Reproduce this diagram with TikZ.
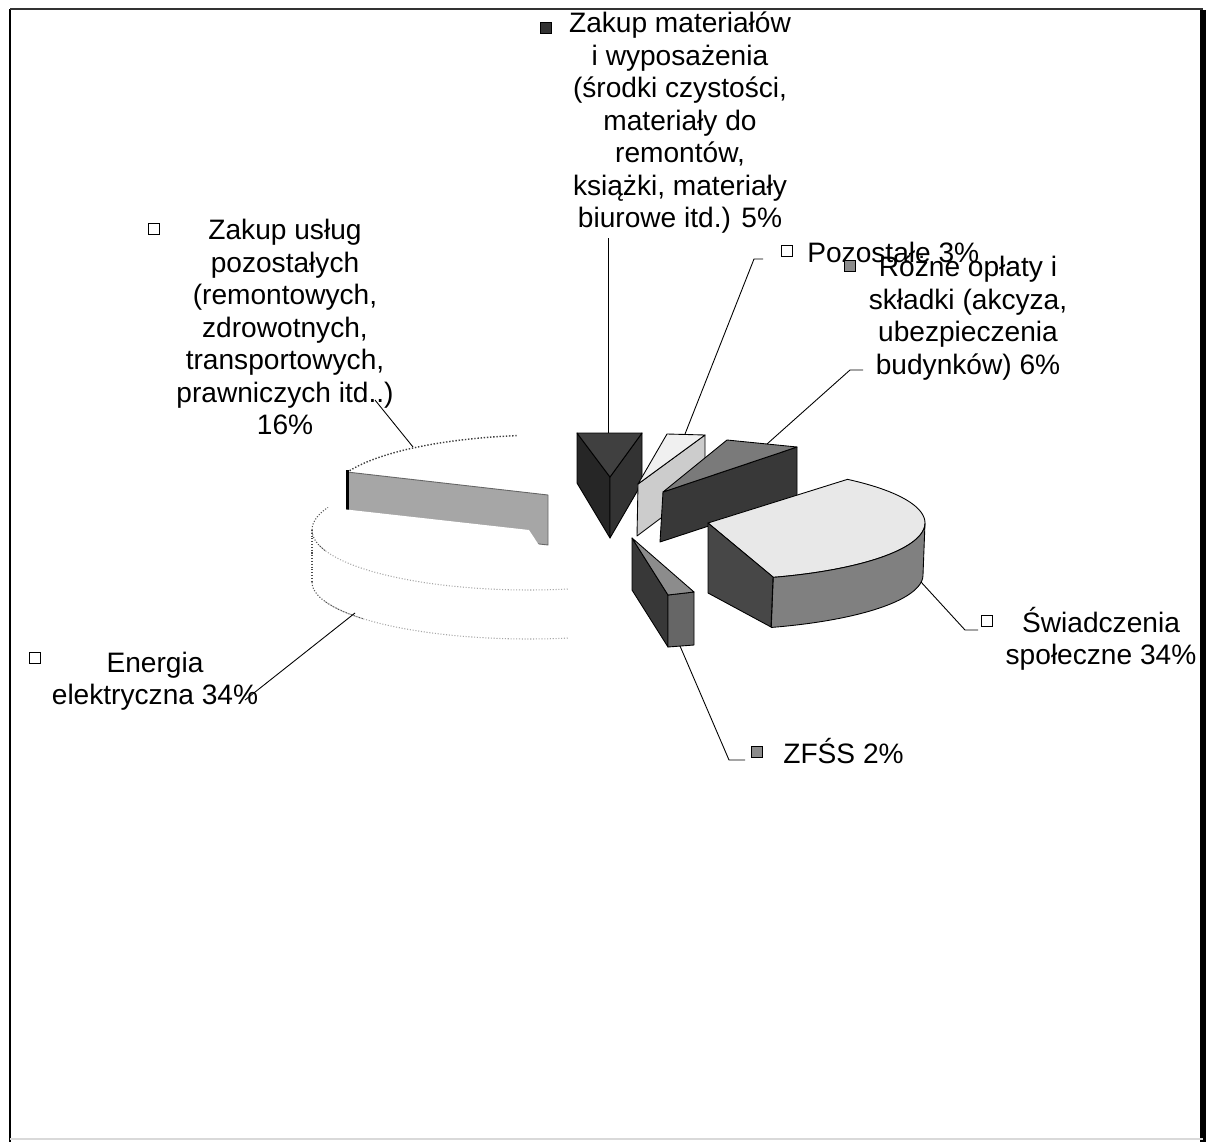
\documentclass[tikz,border=0pt]{standalone}
\usepackage{fontspec}
\setmainfont{Liberation Sans}
\begin{document}
\begin{tikzpicture}[x=0.02cm,y=-0.02cm,
    lbl/.style={font=\fontsize{16}{18.5}\selectfont,align=center,inner sep=0pt},
    legkey/.style={draw=black,line width=0.6pt,minimum size=0.22cm,inner sep=0pt},
    lead/.style={line width=0.5pt},
    face/.style={draw=black,line width=0.5pt,line join=round},
    ghost/.style={draw=black!35,densely dotted,line width=0.6pt}]
    \useasboundingbox (0,0) rectangle (1213,1142);
    % frame
    \draw[line width=0.06cm] (10,9) -- (10,1142);
    \draw[line width=0.03cm,black!80] (10,9) -- (1203,9);
    \draw[line width=0.12cm] (1203,10) -- (1203,1142);
    \draw[line width=0.03cm,black!15] (10,1139) -- (1203,1139);
    % uslugi pozostale (back left)
    \fill[white] (548,495) -- plot[domain=202.1:259.7,samples=40] ({548+217*cos(\x)},{495+60*sin(\x)}) -- cycle;
    \draw[densely dotted,line width=0.8pt,black!75] plot[domain=202.1:262,samples=40] ({548+217*cos(\x)},{495+60*sin(\x)});
    \filldraw[face,fill=black!35,draw=black!60] (548,495) -- (347,472) -- (347,522) -- (548,545) -- cycle;
    \draw[line width=0.06cm] (347,470) -- (347,512);
    % energia elektryczna
    \fill[white] (529,530) -- plot[domain=79.7:202.1,samples=60] ({529+217*cos(\x)},{530+60*sin(\x)}) -- cycle;
    \fill[white] plot[domain=79.7:180,samples=60] ({529+217*cos(\x)},{530+60*sin(\x)})
        -- plot[domain=180:79.7,samples=60] ({529+217*cos(\x)},{582+57*sin(\x)}) -- cycle;
    \draw[ghost] plot[domain=79.7:165,samples=60] ({529+217*cos(\x)},{530+60*sin(\x)});
    \draw[ghost] plot[domain=79.7:160,samples=60] ({529+217*cos(\x)},{582+57*sin(\x)});
    \draw[ghost,draw=black!70] plot[domain=160:202.1,samples=30] ({529+217*cos(\x)},{530+60*sin(\x)});
    \draw[ghost,draw=black!70] plot[domain=140:180,samples=30] ({529+217*cos(\x)},{582+57*sin(\x)});
    \draw[ghost,draw=black!70] (312,530) -- (312,582);
    % zakup materialow
    \filldraw[face,fill=black!85] (577,433) -- (610,477) -- (610,538) -- (577,483) -- cycle;
    \filldraw[face,fill=black!80] (642,433) -- (610,477) -- (610,538) -- (642,483) -- cycle;
    \filldraw[face,fill=black!75] (577,433) -- (642,433) -- (610,477) -- cycle;
    % pozostale
    \filldraw[face,fill=black!20] (638,484) -- (705,435) -- (705,485) -- (637,536) -- cycle;
    \filldraw[face,fill=black!6] (638,484) -- (667,434) -- (705,435) -- cycle;
    % rozne oplaty
    \filldraw[face,fill=black!78] (663,492) -- (797,447) -- (797,497) -- (660,542) -- cycle;
    \filldraw[face,fill=black!52] (663,492) -- (727,440) -- (797,447) -- cycle;
    % swiadczenia spoleczne
    \filldraw[face,fill=black!9] (708,523) -- plot[domain=72.5:-50,samples=60] ({708+217*cos(\x)},{523+57*sin(\x)}) -- cycle;
    \filldraw[face,fill=black!50] plot[domain=0:72.5,samples=40] ({708+217*cos(\x)},{523+57*sin(\x)})
        -- plot[domain=72.5:0,samples=40] ({706+217*cos(\x)},{575+55*sin(\x)}) -- cycle;
    \filldraw[face,fill=black!72] (708,523) -- (773,577) -- (771,627) -- (708,593) -- cycle;
    % ZFSS
    \filldraw[face,fill=black!78] (632,538) -- (668,595) -- (668,647) -- (632,590) -- cycle;
    \filldraw[face,fill=black!60] (668,595) -- (694,592) -- (694,645) -- (668,647) -- cycle;
    \filldraw[face,fill=black!45] (632,538) -- (694,592) -- (668,595) -- cycle;
    % labels
    \node[lbl] (matlbl) at (680,123) {Zakup materiałów\\i wyposażenia\\(środki czystości,\\materiały do\\remontów,\\książki, materiały\\biurowe itd.) 5\%};
    \node[legkey,fill=black!80] (matkey) at (546,28) {};
    \node[lbl] (uslbl) at (285,327) {Zakup usług\\pozostałych\\(remontowych,\\zdrowotnych,\\transportowych,\\prawniczych itd..)\\16\%};
    \node[legkey,fill=white] (uskey) at (154,229) {};
    \node[lbl,anchor=base west] (pozlbl) at (807,262) {Pozostałe 3\%};
    \node[legkey,fill=white] (pozkey) at (787,251) {};
    \node[lbl] (rozlbl) at (968,318) {Różne opłaty i\\składki (akcyza,\\ubezpieczenia\\budynków) 6\%};
    \node[legkey,fill=black!45] (rozkey) at (850,266) {};
    \node[lbl] (swlbl) at (1101,639) {Świadczenia\\społeczne 34\%};
    \node[legkey,fill=white] (swkey) at (987,621) {};
    \node[lbl,anchor=base west] (zfsslbl) at (783,763) {ZFŚS 2\%};
    \node[legkey,fill=black!45] (zfsskey) at (757,752) {};
    \node[lbl] (enlbl) at (155,681) {Energia\\elektryczna 34\%};
    \node[legkey,fill=white] (enkey) at (35,658) {};
    % leader lines
    \coordinate (matpt) at (608,433);
    \coordinate (matend) at (608,238);
    \draw[lead] (matpt) -- (matend);
    \coordinate (pozpt) at (685,434);
    \coordinate (pozend) at (763,259);
    \draw[lead] (pozpt) -- (754,259) -- (pozend);
    \coordinate (rozpt) at (767,444);
    \coordinate (rozend) at (863,370);
    \draw[lead] (rozpt) -- (850,370) -- (rozend);
    \coordinate (swpt) at (921,582);
    \coordinate (swend) at (978,630);
    \draw[lead] (swpt) -- (965,630) -- (swend);
    \coordinate (zfsspt) at (680,646);
    \coordinate (zfssend) at (745,760);
    \draw[lead] (zfsspt) -- (729,760) -- (zfssend);
    \coordinate (enpt) at (355,613);
    \coordinate (enend) at (245,700);
    \draw[lead] (enpt) -- (enend);
    \coordinate (uspt) at (413,447);
    \coordinate (usend) at (375,400);
    \draw[lead] (uspt) -- (usend);
\end{tikzpicture}
\end{document}
